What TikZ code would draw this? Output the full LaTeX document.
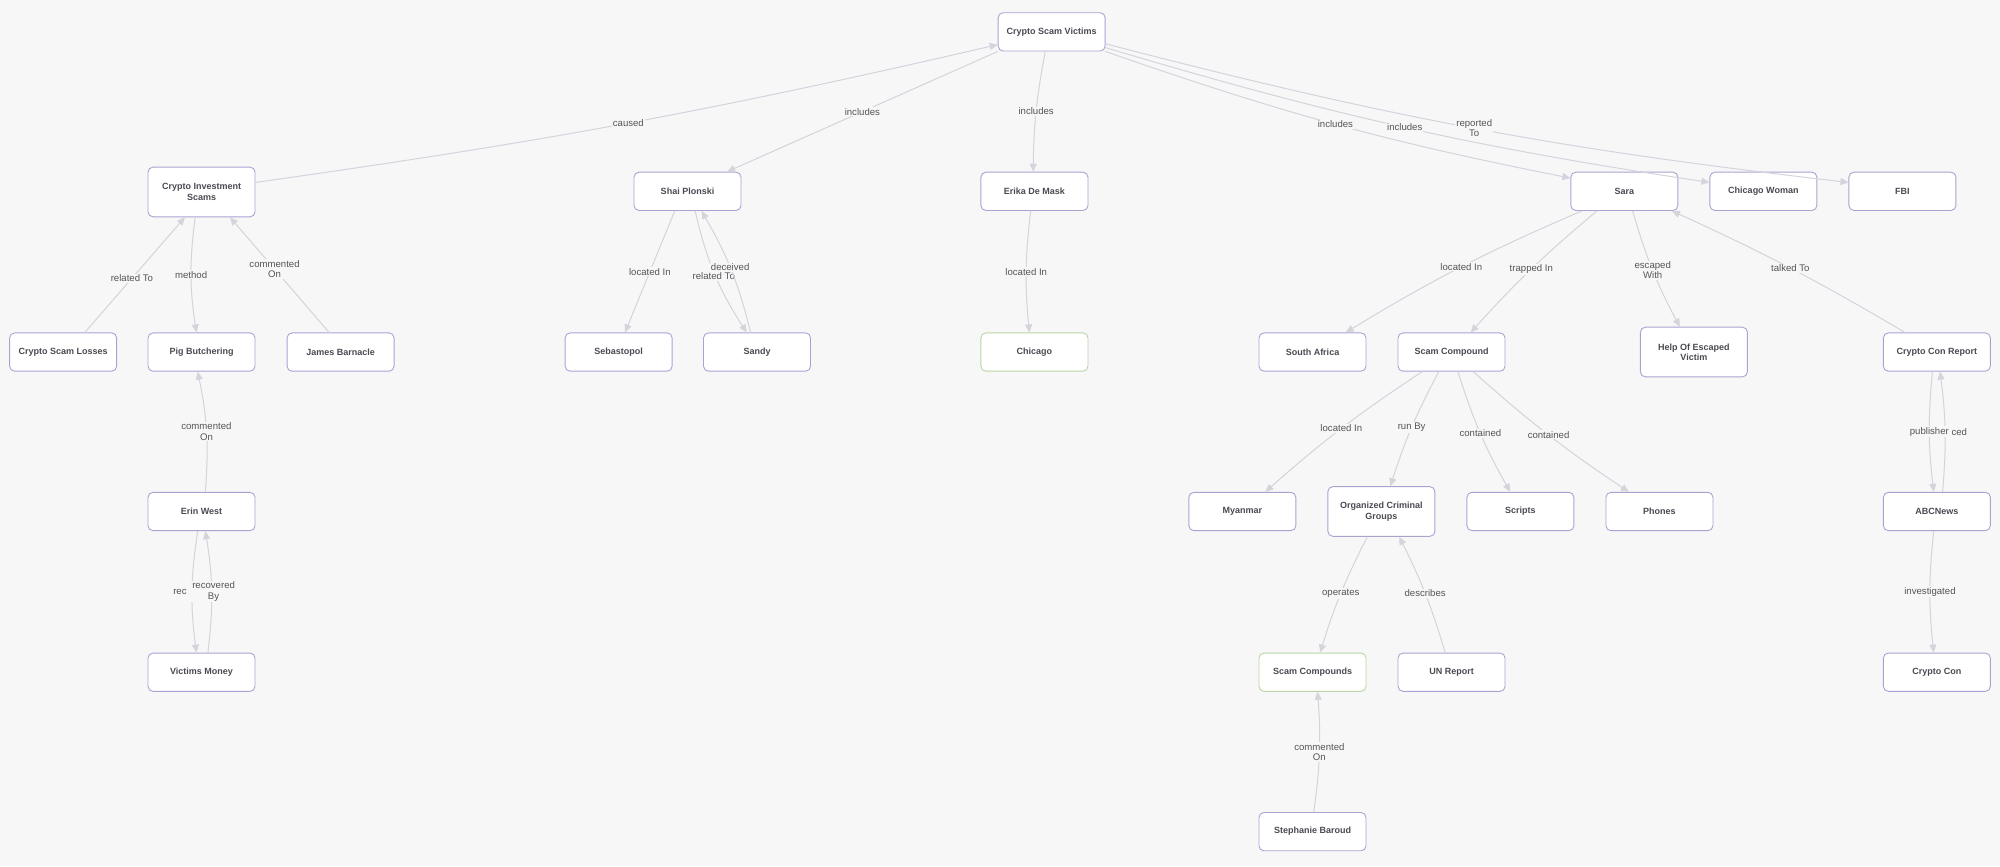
\documentclass[tikz,border=0pt]{standalone}
\usepackage{fontspec}
\setmainfont{Liberation Sans}
\usetikzlibrary{arrows.meta,calc}
\definecolor{bg}{HTML}{F7F7F8}
\definecolor{nborder}{HTML}{A8A4D2}
\definecolor{gborder}{HTML}{B8D5A6}
\definecolor{ecol}{HTML}{D3D4DC}
\definecolor{tcol}{HTML}{4A4A52}
\definecolor{lcol}{HTML}{555558}
\begin{document}
\begin{tikzpicture}[x=1.2755pt,y=1.2755pt,
  box/.style={draw=nborder, line width=0.9pt, fill=white, rounded corners=5pt,
    minimum width=107pt, minimum height=38.3pt, inner sep=0pt, align=center,
    font=\fontsize{9}{10.5}\selectfont\bfseries, text=tcol},
  tall/.style={minimum height=49.7pt},
  gbox/.style={draw=gborder},
  edge/.style={draw=ecol, line width=1pt, -{Triangle[length=8pt,width=7pt]}},
  lbl/.style={fill=bg, inner sep=1pt, font=\fontsize{9.6}{10.5}\selectfont, text=lcol, align=center}]
\fill[bg] (0,0) rectangle (1568,-679);
\useasboundingbox (0,0) rectangle (1568,-679);
% nodes
\node[box] (csv) at (824.5,-25) {Crypto Scam Victims};
\node[box,tall] (cis) at (158,-150.5) {Crypto Investment\\Scams};
\node[box] (shai) at (539,-150) {Shai Plonski};
\node[box] (erika) at (811,-150) {Erika De Mask};
\node[box] (sara) at (1273.5,-150) {Sara};
\node[box] (cw) at (1382.5,-150) {Chicago Woman};
\node[box] (fbi) at (1491.5,-150) {FBI};
\node[box] (csl) at (49.5,-276) {Crypto Scam Losses};
\node[box] (pb) at (158,-276) {Pig Butchering};
\node[box] (jb) at (267,-276) {James Barnacle};
\node[box] (seb) at (485,-276) {Sebastopol};
\node[box] (sandy) at (593.5,-276) {Sandy};
\node[box,gbox] (chicago) at (811,-276) {Chicago};
\node[box] (safrica) at (1029,-276) {South Africa};
\node[box] (scamc) at (1138,-276) {Scam Compound};
\node[box,tall] (help) at (1328,-276) {Help Of Escaped\\Victim};
\node[box] (ccr) at (1518.5,-276) {Crypto Con Report};
\node[box] (ew) at (158,-401) {Erin West};
\node[box] (myanmar) at (974,-401) {Myanmar};
\node[box,tall] (ocg) at (1083,-401) {Organized Criminal\\Groups};
\node[box] (scripts) at (1192,-401) {Scripts};
\node[box] (phones) at (1301,-401) {Phones};
\node[box] (abc) at (1518.5,-401) {ABCNews};
\node[box] (vm) at (158,-527) {Victims Money};
\node[box,gbox] (scs) at (1029,-527) {Scam Compounds};
\node[box] (unr) at (1138,-527) {UN Report};
\node[box] (cc) at (1518.5,-527) {Crypto Con};
\node[box] (sb) at (1029,-652) {Stephanie Baroud};
% edges
\draw[edge] ($(cis.east)+(0,7.5)$) to[bend right=2.5] node[lbl]{caused} ($(csv.west)+(0,-10)$);
\draw[edge] (csv.south west) to node[lbl]{includes} ($(shai.north)+(31,0)$);
\draw[edge] ($(csv.south)+(-5,0)$) to[bend right=5] node[lbl]{includes} ($(erika.north)+(-1,0)$);
\draw[edge] (csv.south east) to[bend right=4] node[lbl]{includes} ($(sara.north west)+(0,-5)$);
\draw[edge] ($(csv.south east)+(0,3)$) to[bend right=4] node[lbl]{includes} ($(cw.west)+(0,7)$);
\draw[edge] ($(csv.south east)+(0,6)$) to[bend right=4] node[lbl]{reported\\To} ($(fbi.west)+(0,7)$);
\draw[edge] ($(csl.north)+(17,0)$) to node[lbl,pos=.47]{related To} ($(cis.south)+(-13,0)$);
\draw[edge] ($(cis.south)+(-5,0)$) to[bend right=8] node[lbl]{method} ($(pb.north)+(-4,0)$);
\draw[edge] ($(jb.north)+(-9,0)$) to node[lbl,pos=.55]{commented\\On} ($(cis.south east)+(-20,0)$);
\draw[edge] ($(ew.north)+(3,0)$) to[bend right=8] node[lbl]{commented\\On} ($(pb.south)+(-3,0)$);
\draw[edge] ($(ew.south)+(-3,0)$) to[bend right=8] node[lbl,anchor=east,xshift=-4pt]{rec} ($(vm.north)+(-4,0)$);
\draw[edge] ($(vm.north)+(5,0)$) to[bend right=8] node[lbl,xshift=2pt]{recovered\\By} ($(ew.south)+(3,0)$);
\draw[edge] ($(shai.south)+(-10,0)$) to node[lbl]{located In} ($(seb.north)+(5,0)$);
\draw[edge] ($(shai.south)+(6,0)$) to[bend right=10] node[lbl,pos=.52,xshift=-2pt]{related To} ($(sandy.north)+(-8,0)$);
\draw[edge] ($(sandy.north)+(-5,0)$) to[bend right=8] node[lbl,pos=.52]{deceived} ($(shai.south)+(11,0)$);
\draw[edge] ($(erika.south)+(-3,0)$) to[bend right=6] node[lbl]{located In} ($(chicago.north)+(-4,0)$);
\draw[edge] ($(sara.south west)+(9,0)$) to[bend right=4] node[lbl]{located In} ($(safrica.north)+(26,0)$);
\draw[edge] ($(sara.south)+(-21.5,0)$) to[bend right=4] node[lbl]{trapped In} ($(scamc.north)+(15,0)$);
\draw[edge] ($(sara.south)+(6.5,0)$) to[bend right=6] node[lbl]{escaped\\With} ($(help.north)+(-11,0)$);
\draw[edge] ($(ccr.north)+(-25,0)$) to[bend right=3] node[lbl]{talked To} ($(sara.south east)+(-5,0)$);
\draw[edge] ($(abc.north)+(4.5,0)$) to[bend right=6] node[lbl,anchor=west,xshift=5pt]{ced} ($(ccr.south)+(2.5,0)$);
\draw[edge] ($(ccr.south)+(-3.5,0)$) to[bend right=6] node[lbl]{publisher} ($(abc.north)+(-2.5,0)$);
\draw[edge] ($(abc.south)+(-2.5,0)$) to[bend right=6] node[lbl]{investigated} ($(cc.north)+(-2.5,0)$);
\draw[edge] ($(scamc.south)+(-23,0)$) to[bend right=4] node[lbl]{located In} ($(myanmar.north)+(18,0)$);
\draw[edge] ($(scamc.south)+(-10,0)$) to[bend right=5] node[lbl]{run By} ($(ocg.north)+(7,0)$);
\draw[edge] ($(scamc.south)+(5,0)$) to[bend right=6] node[lbl]{contained} ($(scripts.north)+(-8,0)$);
\draw[edge] ($(scamc.south)+(17,0)$) to[bend right=4] node[lbl]{contained} ($(phones.north)+(-24,0)$);
\draw[edge] ($(ocg.south)+(-11,0)$) to[bend right=5] node[lbl]{operates} ($(scs.north)+(6,0)$);
\draw[edge] ($(unr.north)+(-5,0)$) to[bend right=5] node[lbl]{describes} ($(ocg.south)+(14,0)$);
\draw[edge] ($(sb.north)+(1,0)$) to[bend right=6] node[lbl]{commented\\On} ($(scs.south)+(4,0)$);
\end{tikzpicture}
\end{document}
